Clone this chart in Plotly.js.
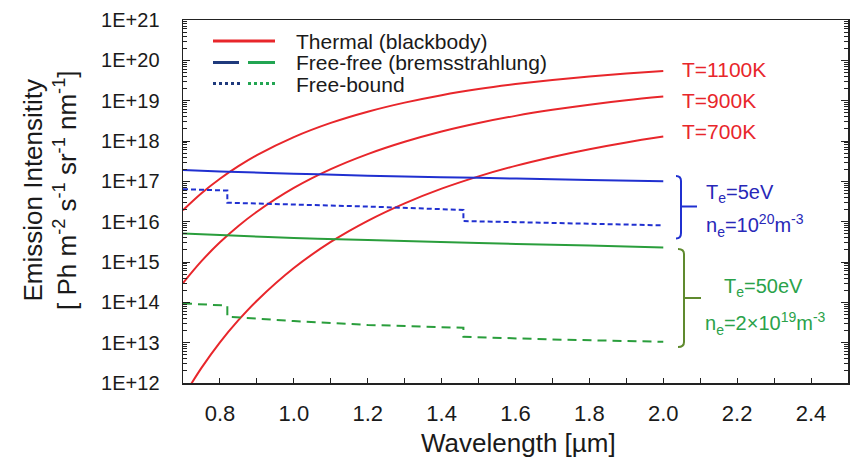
<!DOCTYPE html>
<html>
<head>
<meta charset="utf-8">
<script src="https://cdn.plot.ly/plotly-3.0.1.min.js"></script>
<style>html,body{margin:0;padding:0;background:#fff;}#chart{width:859px;height:469px;}</style>
</head>
<body>
<div id="chart"></div>
<script>
// ---- data ----
var bbLambda = [0.7, 0.75, 0.8, 0.85, 0.9, 1.0, 1.1, 1.2, 1.3, 1.4, 1.5, 1.6, 1.7, 1.8, 1.9, 2.0];
var bbT1100 = [1.92e16, 5.06e16, 1.16e17, 2.38e17, 4.46e17, 1.25e18, 2.81e18, 5.33e18, 8.95e18, 1.37e19, 1.94e19, 2.58e19, 3.27e19, 3.99e19, 4.71e19, 5.42e19];
var bbT900  = [3.01e14, 1.05e15, 3.07e15, 7.80e15, 1.76e16, 6.84e16, 2.00e17, 4.73e17, 9.57e17, 1.72e18, 2.79e18, 4.20e18, 5.92e18, 7.94e18, 1.02e19, 1.26e19];
var bbT700  = [4.42e11, 2.37e12, 1.02e13, 3.61e13, 1.10e14, 7.10e14, 3.14e15, 1.05e16, 2.85e16, 6.58e16, 1.33e17, 2.42e17, 4.03e17, 6.28e17, 9.23e17, 1.29e18];

var ffLambda = [0.7, 0.8, 1.0, 1.2, 1.5, 1.8, 2.0];
var ffTe5  = [1.9e17, 1.75e17, 1.55e17, 1.38e17, 1.22e17, 1.08e17, 1.0e17];
var ffTe50 = [5.1e15, 4.65e15, 3.95e15, 3.5e15, 2.95e15, 2.55e15, 2.3e15];

var fbLambda = [0.7, 0.82, 0.82, 1.0, 1.2, 1.459, 1.459, 1.7, 2.0];
var fbTe5  = [6.4e16, 5.9e16, 2.95e16, 2.7e16, 2.37e16, 1.95e16, 1.035e16, 9.3e15, 8.1e15];
var fbTe50 = [9.4e13, 8.3e13, 4.4e13, 3.43e13, 2.75e13, 2.34e13, 1.4e13, 1.2e13, 1.05e13];

var xTickVals = [0.8, 1.0, 1.2, 1.4, 1.6, 1.8, 2.0, 2.2, 2.4];
var xTickText = ['0.8', '1.0', '1.2', '1.4', '1.6', '1.8', '2.0', '2.2', '2.4'];
var yTickVals = [1e12, 1e13, 1e14, 1e15, 1e16, 1e17, 1e18, 1e19, 1e20, 1e21];
var yTickText = ['1E+12', '1E+13', '1E+14', '1E+15', '1E+16', '1E+17', '1E+18', '1E+19', '1E+20', '1E+21'];

var curveLabels = ['T=1100K', 'T=900K', 'T=700K'];

// ---- styles ----
var RED = '#e8262b', BLUE = '#2030d0', GREEN = '#2a9e3c';
var NAVY = '#1f3a7c', LGREEN = '#22a552', OLIVE = '#5f8a2e';
var TXT_BLUE = '#2828b8', TXT_GREEN = '#2aa24a';
var FONT = 'Liberation Sans, Arial, sans-serif';

// layout geometry in pixels -> paper helpers
var L = 183, R = 848, T = 20, B = 383;
function px(x) { return (x - L) / (R - L); }
function py(y) { return (B - y) / (B - T); }

var traces = [
  {x: bbLambda, y: bbT1100, mode: 'lines', line: {color: RED, width: 2, shape: 'spline'}},
  {x: bbLambda, y: bbT900,  mode: 'lines', line: {color: RED, width: 2, shape: 'spline'}},
  {x: bbLambda, y: bbT700,  mode: 'lines', line: {color: RED, width: 2, shape: 'spline'}},
  {x: ffLambda, y: ffTe5,  mode: 'lines', line: {color: BLUE, width: 2, shape: 'spline'}},
  {x: ffLambda, y: ffTe50, mode: 'lines', line: {color: GREEN, width: 2, shape: 'spline'}},
  {x: fbLambda, y: fbTe5,  mode: 'lines', line: {color: BLUE, width: 2, dash: '5px,3px'}},
  {x: fbLambda, y: fbTe50, mode: 'lines', line: {color: GREEN, width: 2, dash: '9px,6px'}}
];

// minor tick positions for the log axis
var yMinor = [];
for (var e = 12; e < 21; e++) { for (var m = 2; m <= 9; m++) { yMinor.push(m * Math.pow(10, e)); } }
var xMinor = [];
for (var k = 7; k <= 25; k++) { xMinor.push(k / 10); }

var shapes = [
  // legend samples
  {type: 'line', xref: 'paper', yref: 'paper', x0: px(213), x1: px(275), y0: py(41), y1: py(41), line: {color: RED, width: 3}},
  {type: 'line', xref: 'paper', yref: 'paper', x0: px(213), x1: px(239), y0: py(62.5), y1: py(62.5), line: {color: NAVY, width: 3}},
  {type: 'line', xref: 'paper', yref: 'paper', x0: px(248), x1: px(275), y0: py(62.5), y1: py(62.5), line: {color: LGREEN, width: 3}},
  {type: 'line', xref: 'paper', yref: 'paper', x0: px(213), x1: px(240), y0: py(83.5), y1: py(83.5), line: {color: NAVY, width: 3, dash: 'dot'}},
  {type: 'line', xref: 'paper', yref: 'paper', x0: px(248), x1: px(275), y0: py(83.5), y1: py(83.5), line: {color: LGREEN, width: 3, dash: 'dot'}},
  // blue bracket
  {type: 'path', xref: 'paper', yref: 'paper',
   path: 'M' + px(676) + ',' + py(176) + ' Q' + px(681) + ',' + py(176) + ' ' + px(681) + ',' + py(181) +
         ' L' + px(681) + ',' + py(233) + ' Q' + px(681) + ',' + py(238.5) + ' ' + px(676) + ',' + py(238.5),
   line: {color: BLUE, width: 2}},
  {type: 'line', xref: 'paper', yref: 'paper', x0: px(681), x1: px(697), y0: py(206.5), y1: py(206.5), line: {color: BLUE, width: 2}},
  // green bracket
  {type: 'path', xref: 'paper', yref: 'paper',
   path: 'M' + px(678) + ',' + py(249) + ' Q' + px(684) + ',' + py(249) + ' ' + px(684) + ',' + py(254) +
         ' L' + px(684) + ',' + py(342) + ' Q' + px(684) + ',' + py(347) + ' ' + px(678) + ',' + py(347),
   line: {color: OLIVE, width: 2}},
  {type: 'line', xref: 'paper', yref: 'paper', x0: px(684), x1: px(701), y0: py(298), y1: py(298), line: {color: OLIVE, width: 2}}
];

function ann(text, x, y, size, color, xanchor) {
  return {text: text, xref: 'paper', yref: 'paper', x: px(x), y: py(y), xanchor: xanchor || 'left', yanchor: 'middle',
          showarrow: false, font: {family: FONT, size: size, color: color}};
}

var annotations = [
  ann('Thermal (blackbody)', 294, 41, 21, '#1a1a1a'),
  ann('Free-free (bremsstrahlung)', 294, 62.5, 21, '#1a1a1a'),
  ann('Free-bound', 294, 84, 21, '#1a1a1a'),
  ann(curveLabels[0], 680, 70, 21, RED),
  ann(curveLabels[1], 680, 100, 21, RED),
  ann(curveLabels[2], 680, 131.5, 21, RED),
  ann('T<sub>e</sub>=5eV', 704, 194, 20, TXT_BLUE),
  ann('n<sub>e</sub>=10<sup>20</sup>m<sup>-3</sup>', 704, 225, 20, TXT_BLUE),
  ann('T<sub>e</sub>=50eV', 763, 287, 20, TXT_GREEN, 'center'),
  ann('n<sub>e</sub>=2×10<sup>19</sup>m<sup>-3</sup>', 765, 323, 20, TXT_GREEN, 'center'),
  {text: 'Emission Intensitity<br>[ Ph m<sup>-2</sup> s<sup>-1</sup> sr<sup>-1</sup> nm<sup>-1</sup>]',
   xref: 'paper', yref: 'paper', x: px(50), y: py(190), xanchor: 'center', yanchor: 'middle', textangle: -90,
   showarrow: false, font: {family: FONT, size: 26, color: '#1a1a1a'}},
  {text: 'Wavelength [µm]', xref: 'paper', yref: 'paper', x: px(518), y: py(443), xanchor: 'center', yanchor: 'middle',
   showarrow: false, font: {family: FONT, size: 26, color: '#1a1a1a'}}
];

var layout = {
  width: 859, height: 469,
  margin: {l: L, r: 859 - R, t: T, b: 469 - B, pad: 0},
  paper_bgcolor: '#ffffff', plot_bgcolor: '#ffffff',
  showlegend: false,
  xaxis: {
    range: [0.7, 2.5], tickmode: 'array', tickvals: xTickVals, ticktext: xTickText,
    ticks: 'inside', ticklen: 5, tickcolor: '#222', tickwidth: 1,
    minor: {tickmode: 'array', tickvals: xMinor, ticks: 'inside', ticklen: 5, tickcolor: '#222', showgrid: false},
    showgrid: false, zeroline: false, showline: true, linecolor: '#222', linewidth: 1.5, mirror: true,
    tickfont: {family: FONT, size: 22, color: '#1a1a1a'}, ticklabelstandoff: 10
  },
  yaxis: {
    type: 'log', range: [12, 21], tickmode: 'array', tickvals: yTickVals, ticktext: yTickText,
    ticks: 'inside', ticklen: 7, tickcolor: '#222', tickwidth: 1,
    minor: {tickmode: 'array', tickvals: yMinor, ticks: 'inside', ticklen: 4, tickcolor: '#222', showgrid: false},
    showgrid: false, zeroline: false, showline: true, linecolor: '#222', linewidth: 1.5, mirror: 'ticks',
    tickfont: {family: FONT, size: 20, color: '#1a1a1a'}, ticklabelstandoff: 18
  },
  shapes: shapes,
  annotations: annotations
};

Plotly.newPlot('chart', traces, layout, {displayModeBar: false, staticPlot: true});
</script>
</body>
</html>
